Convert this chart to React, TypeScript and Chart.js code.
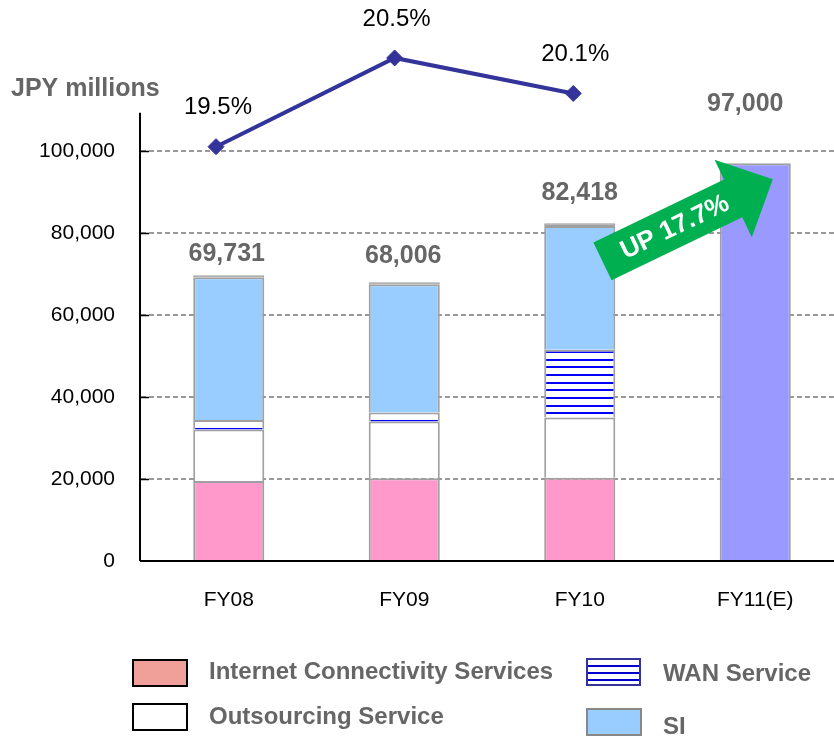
import React, { useEffect, useRef } from 'react';
import { Chart, registerables } from 'chart.js';

Chart.register(...registerables);

// ---- data ----
const categories = ['FY08', 'FY09', 'FY10', 'FY11(E)'];
const internetConnectivity = [19500, 20200, 20300, null];
const outsourcing = [12600, 13800, 14700, null];
const wanService = [2300, 2200, 16500, null];
const si = [34800, 31300, 30200, null];
const other = [500, 500, 700, null];
const forecast = [null, null, null, 97000];
const totalValues = [69731, 68006, 82418, 97000];
const growthRate = [19.5, 20.5, 20.1];
const growthLabels = ['19.5%', '20.5%', '20.1%'];
const yTickValues = [0, 20000, 40000, 60000, 80000, 100000];
const yAxisTopValue = 109300;

const FONT = '"Liberation Sans", Arial, sans-serif';
const GRAY_TEXT = '#666666';
const CANVAS_W = 843;

function makeWanPattern(): CanvasPattern | string {
  const c = document.createElement('canvas');
  c.width = 8;
  c.height = 23;
  const g = c.getContext('2d');
  if (!g) return '#ffffff';
  g.fillStyle = '#ffffff';
  g.fillRect(0, 0, 8, 23);
  g.fillStyle = '#0000ff';
  [6, 14, 21].forEach((y) => g.fillRect(0, y, 8, 2));
  return g.createPattern(c, 'repeat') || '#ffffff';
}

const overlayPlugin = {
  id: 'overlay',
  afterDraw(chart: any) {
    const ctx: CanvasRenderingContext2D = chart.ctx;
    const xs = chart.scales.x;
    const ys = chart.scales.y;
    const area = chart.chartArea;
    ctx.save();

    // y axis line + inside ticks
    ctx.strokeStyle = '#000';
    ctx.lineWidth = 2;
    ctx.beginPath();
    ctx.moveTo(area.left - 1, ys.getPixelForValue(0));
    ctx.lineTo(area.left - 1, ys.getPixelForValue(yAxisTopValue));
    ctx.stroke();
    ys.ticks.forEach((t: any) => {
      if (t.value === 0) return;
      const py = Math.round(ys.getPixelForValue(t.value)) + 0.5;
      ctx.lineWidth = 1.5;
      ctx.beginPath();
      ctx.moveTo(area.left - 1, py);
      ctx.lineTo(area.left + 8, py);
      ctx.stroke();
    });

    // axis title
    ctx.fillStyle = GRAY_TEXT;
    ctx.font = `bold 25px ${FONT}`;
    ctx.textAlign = 'left';
    ctx.textBaseline = 'middle';
    ctx.fillText('JPY millions', 11, 89);

    // total labels
    const lift = [21, 26, 30, 59];
    const dx = [-2, -1, 0, -10];
    ctx.font = `bold 25px ${FONT}`;
    ctx.textAlign = 'center';
    totalValues.forEach((v, i) => {
      const px = xs.getPixelForValue(i) + dx[i];
      const py = ys.getPixelForValue(v) - lift[i];
      ctx.fillText(v.toLocaleString('en-US'), px, py);
    });

    // growth labels
    const lineMeta = chart.getDatasetMeta(chart.data.datasets.length - 1);
    ctx.fillStyle = '#000';
    ctx.font = `24px ${FONT}`;
    lineMeta.data.forEach((pt: any, i: number) => {
      ctx.fillText(growthLabels[i], pt.x + 2, pt.y - 39);
    });

    // green arrow annotation
    ctx.save();
    ctx.translate(602.5, 261.3);
    ctx.rotate((-25.7 * Math.PI) / 180);
    ctx.fillStyle = '#00B050';
    ctx.beginPath();
    ctx.moveTo(0, -21);
    ctx.lineTo(145, -21);
    ctx.lineTo(145, -43);
    ctx.lineTo(189, 0);
    ctx.lineTo(145, 43);
    ctx.lineTo(145, 21);
    ctx.lineTo(0, 21);
    ctx.closePath();
    ctx.fill();
    ctx.fillStyle = '#ffffff';
    ctx.font = `bold 26px ${FONT}`;
    ctx.textAlign = 'center';
    ctx.textBaseline = 'middle';
    ctx.fillText('UP 17.7%', 80, 1);
    ctx.restore();

    // legend
    const sw = (x: number, y: number, fill: any, stroke: string) => {
      ctx.fillStyle = fill;
      ctx.fillRect(x, y, 54, 26);
      ctx.strokeStyle = stroke;
      ctx.lineWidth = 2;
      ctx.strokeRect(x, y, 54, 26);
    };
    sw(133, 660, '#F0A098', '#000');
    sw(133, 704, '#ffffff', '#000');
    ctx.fillStyle = '#ffffff';
    ctx.fillRect(587, 659, 53, 26);
    ctx.fillStyle = '#0000cc';
    [665, 672, 679].forEach((y) => ctx.fillRect(587, y, 53, 2));
    ctx.strokeStyle = '#333399';
    ctx.lineWidth = 2;
    ctx.strokeRect(587, 659, 53, 26);
    sw(587, 709, '#99CCFF', '#888888');

    ctx.fillStyle = GRAY_TEXT;
    ctx.font = `bold 24px ${FONT}`;
    ctx.textAlign = 'left';
    ctx.textBaseline = 'middle';
    ctx.fillText('Internet Connectivity Services', 209, 672);
    ctx.fillText('Outsourcing Service', 209, 717);
    ctx.fillText('WAN Service', 663, 674);
    ctx.fillText('SI', 663, 727);

    ctx.restore();
  },
};

export default function App() {
  const ref = useRef<HTMLCanvasElement | null>(null);

  useEffect(() => {
    document.body.style.margin = '0';
    if (!ref.current) return;
    const wan = makeWanPattern();
    const barCommon = {
      borderColor: '#a0a0a0',
      borderWidth: { top: 2, left: 2, right: 2, bottom: 0 },
      borderSkipped: false,
      barPercentage: 0.405,
      categoryPercentage: 1,
      grouped: false,
      stack: 's',
      xAxisID: 'x',
      yAxisID: 'y',
    };
    const chart = new Chart(ref.current, {
      type: 'bar',
      data: {
        labels: categories,
        datasets: [
          { ...barCommon, label: 'Internet Connectivity Services', data: internetConnectivity, backgroundColor: '#FF99CC' },
          { ...barCommon, label: 'Outsourcing Service', data: outsourcing, backgroundColor: '#FFFFFF' },
          { ...barCommon, label: 'WAN Service', data: wanService, backgroundColor: wan },
          { ...barCommon, label: 'SI', data: si, backgroundColor: '#99CCFF' },
          { ...barCommon, label: 'Other', data: other, backgroundColor: '#a0a0a0' },
          { ...barCommon, label: 'FY11 forecast', data: forecast, backgroundColor: '#9999FF' },
          {
            type: 'line',
            label: 'Growth',
            data: growthRate.map((v, i) => ({ x: i, y: v })),
            xAxisID: 'x2',
            yAxisID: 'y2',
            borderColor: '#333399',
            borderWidth: 4,
            backgroundColor: '#333399',
            pointStyle: 'rectRot',
            pointRadius: 8,
            pointBackgroundColor: '#333399',
            pointBorderColor: '#333399',
            pointBorderWidth: 1,
            tension: 0,
            clip: false,
            order: -1,
          } as any,
        ],
      } as any,
      options: {
        responsive: false,
        animation: false,
        layout: { autoPadding: false, padding: { top: 20, right: 0, bottom: 0, left: 0 } },
        plugins: { legend: { display: false }, tooltip: { enabled: false } },
        scales: {
          x: {
            type: 'category',
            stacked: true,
            grid: { display: false, drawTicks: false },
            border: { display: true, color: '#000', width: 2 },
            ticks: { color: '#000', font: { family: FONT, size: 21 }, padding: 27, autoSkip: false },
            afterFit: (s: any) => {
              s.height = 175;
              s.paddingLeft = 0;
              s.paddingRight = 0;
            },
          },
          y: {
            type: 'linear',
            stacked: true,
            min: 0,
            max: 131950,
            grid: {
              color: (c: any) => (c.tick && c.tick.value === 0 ? 'rgba(0,0,0,0)' : '#999999'),
              lineWidth: 2,
              drawTicks: false,
            },
            border: { display: false, dash: [5, 3] },
            ticks: {
              autoSkip: false,
              color: '#000',
              font: { family: FONT, size: 21 },
              padding: 26,
              callback: (v: any) => Number(v).toLocaleString('en-US'),
            },
            afterBuildTicks: (s: any) => {
              s.ticks = yTickValues.map((v) => ({ value: v }));
            },
            afterFit: (s: any) => {
              s.width = 141;
              s.paddingTop = 0;
              s.paddingBottom = 0;
            },
          },
          x2: {
            type: 'linear',
            display: false,
            offset: false,
            grid: { offset: false },
            min: -0.42,
            max: 3.51,
            ticks: { display: false },
          },
          y2: { type: 'linear', display: false, offset: false, min: 14.829, max: 20.928, ticks: { display: false } },
        },
      } as any,
      plugins: [overlayPlugin],
    });
    return () => chart.destroy();
  }, []);

  return (
    <div style={{ width: 834, height: 736, overflow: 'hidden', position: 'relative', background: '#fff' }}>
      <canvas ref={ref} width={CANVAS_W} height={736} style={{ display: 'block' }} />
    </div>
  );
}
